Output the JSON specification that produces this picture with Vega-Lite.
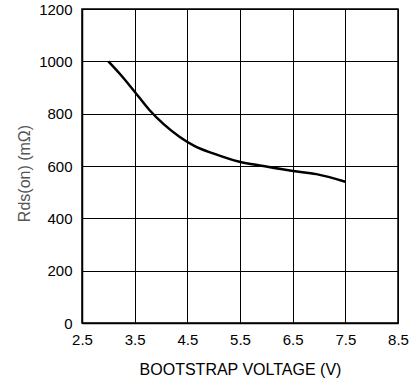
{
  "$schema": "https://vega.github.io/schema/vega-lite/v6.json",
  "width": 316,
  "height": 314,
  "autosize": "none",
  "padding": {"left": 82, "top": 9, "right": 14, "bottom": 66},
  "background": "white",
  "config": {
    "view": {"stroke": "#000", "strokeWidth": 1.5},
    "font": "Liberation Sans",
    "axis": {
      "labelFont": "Liberation Sans",
      "titleFont": "Liberation Sans",
      "labelFontSize": 15,
      "titleFontSize": 16,
      "titleFontWeight": "normal",
      "labelColor": "#000",
      "titleColor": "#000",
      "grid": true,
      "gridColor": "#000",
      "gridOpacity": 1,
      "gridWidth": 1,
      "domainColor": "#000",
      "domainWidth": 1.5,
      "ticks": false
    }
  },
  "data": {
    "values": [
      {"v": 3.0, "r": 1000},
      {"v": 3.25, "r": 945},
      {"v": 3.5, "r": 884},
      {"v": 3.78, "r": 814},
      {"v": 4.05, "r": 760},
      {"v": 4.35, "r": 712},
      {"v": 4.65, "r": 675},
      {"v": 4.99, "r": 648},
      {"v": 5.49, "r": 616},
      {"v": 5.94, "r": 600},
      {"v": 6.51, "r": 581},
      {"v": 6.95, "r": 569},
      {"v": 7.5, "r": 540}
    ]
  },
  "mark": {"type": "line", "color": "#000", "strokeWidth": 2.5, "interpolate": "monotone"},
  "encoding": {
    "x": {
      "field": "v",
      "type": "quantitative",
      "scale": {"domain": [2.5, 8.5], "nice": false, "zero": false},
      "axis": {
        "title": "BOOTSTRAP VOLTAGE (V)",
        "values": [2.5, 3.5, 4.5, 5.5, 6.5, 7.5, 8.5],
        "format": ".1f",
        "labelPadding": 9,
        "titlePadding": 14,
        "labelFlush": false
      }
    },
    "y": {
      "field": "r",
      "type": "quantitative",
      "scale": {"domain": [0, 1200], "nice": false},
      "axis": {
        "title": "Rds(on) (mΩ)",
        "titleColor": "#555",
        "values": [0, 200, 400, 600, 800, 1000, 1200],
        "format": "d",
        "labelPadding": 10,
        "titlePadding": 6,
        "titleY": 164,
        "labelFlush": false
      }
    }
  }
}
